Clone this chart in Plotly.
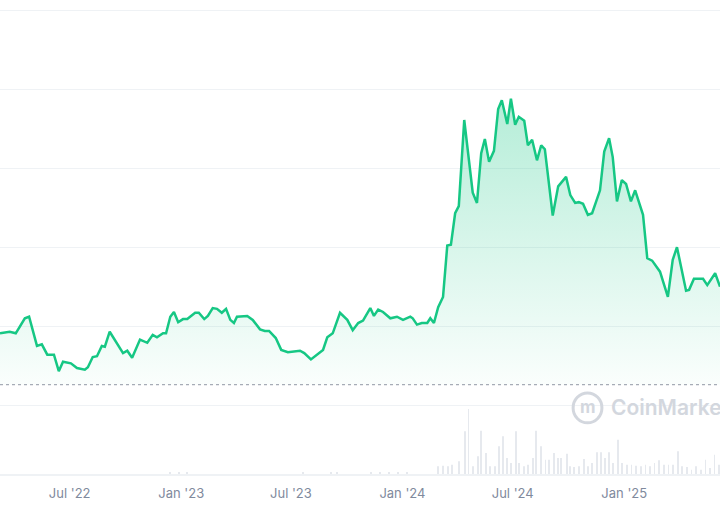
import plotly.graph_objects as go

# price series (relative units)
dates = [
    "2022-03-08", "2022-03-24", "2022-04-03", "2022-04-18", "2022-04-25", "2022-05-08", "2022-05-16",
    "2022-05-25", "2022-06-05", "2022-06-13", "2022-06-20", "2022-07-03", "2022-07-13", "2022-07-26",
    "2022-07-31", "2022-08-08", "2022-08-15", "2022-08-23", "2022-08-28", "2022-09-05", "2022-09-27",
    "2022-10-04", "2022-10-12", "2022-10-25", "2022-11-06", "2022-11-15", "2022-11-22", "2022-12-02",
    "2022-12-07", "2022-12-14", "2022-12-20", "2022-12-27", "2023-01-04", "2023-01-11", "2023-01-24",
    "2023-01-30", "2023-02-08", "2023-02-14", "2023-02-22", "2023-03-01", "2023-03-09", "2023-03-16",
    "2023-03-23", "2023-03-29", "2023-04-03", "2023-04-20", "2023-04-29", "2023-05-11", "2023-05-19",
    "2023-05-26", "2023-06-06", "2023-06-15", "2023-06-26", "2023-07-16", "2023-07-23", "2023-08-03",
    "2023-08-23", "2023-08-30", "2023-09-08", "2023-09-20", "2023-10-02", "2023-10-11", "2023-10-20",
    "2023-10-28", "2023-11-09", "2023-11-15", "2023-11-22", "2023-11-30", "2023-12-12", "2023-12-23",
    "2024-01-02", "2024-01-14", "2024-01-18", "2024-01-25", "2024-02-02", "2024-02-11", "2024-02-16",
    "2024-02-22", "2024-02-29", "2024-03-08", "2024-03-15", "2024-03-21", "2024-03-28", "2024-04-03",
    "2024-04-12", "2024-04-18", "2024-04-26", "2024-05-03", "2024-05-10", "2024-05-16", "2024-05-23",
    "2024-05-31", "2024-06-07", "2024-06-13", "2024-06-22", "2024-06-28", "2024-07-05", "2024-07-11",
    "2024-07-20", "2024-07-26", "2024-08-02", "2024-08-10", "2024-08-17", "2024-08-23", "2024-08-30",
    "2024-09-05", "2024-09-14", "2024-09-27", "2024-10-04", "2024-10-12", "2024-10-18", "2024-10-25",
    "2024-11-02", "2024-11-09", "2024-11-22", "2024-11-29", "2024-12-07", "2024-12-13", "2024-12-20",
    "2024-12-28", "2025-01-04", "2025-01-12", "2025-01-19", "2025-02-01", "2025-02-08", "2025-02-16",
    "2025-03-01", "2025-03-14", "2025-03-22", "2025-03-29", "2025-04-13", "2025-04-18", "2025-04-26",
    "2025-05-11", "2025-05-18", "2025-05-31", "2025-06-08",
]
prices = [
    0.92, 0.94, 0.92, 1.11, 1.13, 0.76, 0.78,
    0.65, 0.65, 0.44, 0.56, 0.54, 0.48, 0.46,
    0.49, 0.62, 0.63, 0.76, 0.75, 0.94, 0.67,
    0.70, 0.61, 0.84, 0.80, 0.90, 0.87, 0.92,
    0.92, 1.13, 1.19, 1.06, 1.10, 1.10, 1.18,
    1.18, 1.10, 1.14, 1.24, 1.23, 1.18, 1.23,
    1.09, 1.05, 1.13, 1.14, 1.09, 0.97, 0.95,
    0.95, 0.86, 0.71, 0.68, 0.70, 0.67, 0.59,
    0.71, 0.87, 0.92, 1.18, 1.09, 0.96, 1.05,
    1.08, 1.24, 1.14, 1.22, 1.19, 1.11, 1.13,
    1.09, 1.13, 1.11, 1.03, 1.05, 1.05, 1.11,
    1.05, 1.25, 1.38, 2.03, 2.04, 2.44, 2.53,
    3.62, 3.24, 2.70, 2.57, 3.20, 3.38, 3.09,
    3.23, 3.76, 3.87, 3.57, 3.89, 3.56, 3.66,
    3.61, 3.30, 3.37, 3.11, 3.30, 3.25, 2.77,
    2.41, 2.78, 2.90, 2.67, 2.57, 2.58, 2.56,
    2.42, 2.44, 2.73, 3.22, 3.39, 3.15, 2.59,
    2.86, 2.81, 2.59, 2.73, 2.42, 1.87, 1.84,
    1.70, 1.38, 1.85, 2.01, 1.46, 1.47, 1.61,
    1.61, 1.53, 1.68, 1.51,
]

# volume series (relative units)
vol_dates = [
    "2022-12-14", "2022-12-28", "2023-01-10", "2023-07-21", "2023-09-05", "2023-09-15",
    "2023-11-10", "2023-11-25", "2023-12-10", "2023-12-24", "2024-01-08",
    "2024-02-29", "2024-03-08", "2024-03-16", "2024-03-23", "2024-04-04", "2024-04-13", "2024-04-19",
    "2024-04-26", "2024-05-04", "2024-05-10", "2024-05-18", "2024-05-25", "2024-06-02", "2024-06-08",
    "2024-06-15", "2024-06-21", "2024-06-28", "2024-07-06", "2024-07-12", "2024-07-19", "2024-07-26",
    "2024-08-03", "2024-08-09", "2024-08-16", "2024-08-24", "2024-08-30", "2024-09-07", "2024-09-13",
    "2024-09-19", "2024-09-28", "2024-10-04", "2024-10-10", "2024-10-18", "2024-10-27", "2024-11-02",
    "2024-11-09", "2024-11-17", "2024-11-24", "2024-11-30", "2024-12-07", "2024-12-14", "2024-12-22",
    "2024-12-29", "2025-01-06", "2025-01-13", "2025-01-21", "2025-01-29", "2025-02-05", "2025-02-13",
    "2025-02-20", "2025-02-28", "2025-03-07", "2025-03-15", "2025-03-23", "2025-03-30", "2025-04-07",
    "2025-04-14", "2025-04-22", "2025-04-30", "2025-05-07", "2025-05-15", "2025-05-22", "2025-05-30",
    "2025-06-06",
]
volumes = [
    2, 2, 2, 2, 2, 2,
    2, 2, 2, 2, 2,
    7.7, 8.3, 7.7, 9.3, 12.7, 42.7, 65,
    7.7, 17.7, 43.3, 21, 7.7, 7.7, 27.7,
    37.7, 16, 11, 42.7, 11, 7.7, 9.3,
    16, 43.3, 27.7, 14.3, 14.3, 21, 16,
    16, 20.3, 7.7, 7, 7.7, 15, 7.7,
    11, 21.7, 21.7, 16, 21.7, 11, 34.3,
    11, 9.3, 9.3, 8.3, 7.7, 9.3, 7.7,
    11, 13.7, 9.3, 9.3, 9.3, 22.7, 7.7,
    7, 4.3, 7.7, 4.3, 14.3, 6, 19.3,
    9.3,
]
baseline = 0.27

fig = go.Figure()
fig.add_trace(go.Bar(x=vol_dates, y=volumes, yaxis="y2", marker_color="#e6e9ee",
                     marker_line_width=0, width=86400000 * 1.5, hoverinfo="skip"))
fig.add_trace(go.Scatter(x=dates, y=[baseline] * len(dates), mode="lines",
                         line=dict(width=0), hoverinfo="skip"))
fig.add_trace(go.Scatter(
    x=dates, y=prices, mode="lines", fill="tonexty",
    line=dict(color="#16c784", width=2.5),
    fillgradient=dict(type="vertical",
                      colorscale=[[0, "rgba(22,199,132,0.02)"], [1, "rgba(22,199,132,0.32)"]]),
))

fig.add_shape(type="line", xref="paper", x0=0, x1=1, y0=baseline, y1=baseline,
              line=dict(color="#a6acb6", width=1.2, dash="dot"))

# watermark
fig.add_shape(type="circle", xref="paper", yref="paper", x0=0.796, x1=0.836, y0=0.108, y1=0.171,
              line=dict(color="#d3d7de", width=3))
fig.add_annotation(text="m", xref="paper", yref="paper", x=0.816, y=0.142,
                   xanchor="center", yanchor="middle", showarrow=False,
                   font=dict(family="Inter", size=17, color="#d3d7de", weight=700))
fig.add_annotation(text="CoinMarketCap", xref="paper", yref="paper", x=0.846, y=0.14,
                   xanchor="left", yanchor="middle", showarrow=False,
                   font=dict(family="Inter", size=21, color="#d3d7de", weight=600))

fig.update_layout(
    width=720, height=532, margin=dict(l=0, r=0, t=0, b=58, pad=0),
    paper_bgcolor="white", plot_bgcolor="white", showlegend=False,
    font=dict(family="Inter", size=13, color="#808a9d"),
    xaxis=dict(type="date", range=["2022-03-08", "2025-06-08"], dtick="M6",
               tick0="2022-01-01", tickformat="%b '%y", showgrid=False, automargin=False,
               showline=True, linecolor="#eff2f5", linewidth=2, ticks="",
               ticklabelstandoff=6),
    yaxis=dict(range=[-0.861, 5.139], tickvals=[0, 1, 2, 3, 4, 5], showticklabels=False,
               gridcolor="#eff2f5", gridwidth=1, zeroline=False, automargin=False),
    yaxis2=dict(range=[0, 474], overlaying="y", visible=False, automargin=False),
)

fig.write_html("out.html", config={"displayModeBar": False},
               post_script="document.body.style.margin='0';")
